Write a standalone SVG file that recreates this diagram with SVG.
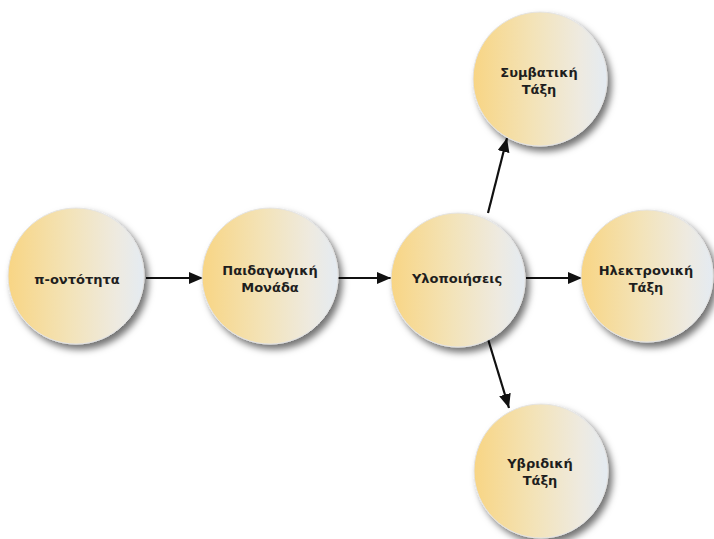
<svg xmlns="http://www.w3.org/2000/svg" width="714" height="539" viewBox="0 0 714 539">
  <defs>
    <linearGradient id="ball" x1="0" y1="0" x2="1" y2="0">
      <stop offset="0" stop-color="#f8d584"/>
      <stop offset="0.45" stop-color="#f3e3b8"/>
      <stop offset="0.8" stop-color="#eeeae0"/>
      <stop offset="1" stop-color="#e4ebf2"/>
    </linearGradient>
    <filter id="shade" x="-20%" y="-20%" width="150%" height="150%">
      <feDropShadow dx="4" dy="5" stdDeviation="3.5" flood-color="#000" flood-opacity="0.55"/>
    </filter>
    <marker id="head" viewBox="0 0 14 12" refX="14" refY="6" markerWidth="14" markerHeight="12" markerUnits="userSpaceOnUse" orient="auto">
      <path d="M0,0 L14,6 L0,12 Z" fill="#111"/>
    </marker>
  </defs>
  <style>
    .node circle { fill: url(#ball); stroke: #e4e4e4; stroke-width: 1; filter: url(#shade); }
    .node text { font-family: "DejaVu Sans", Verdana, sans-serif; font-weight: bold; font-size: 13px; fill: #1e1e1e; text-anchor: middle; }
    .edges line { stroke: #111; stroke-width: 2.2; marker-end: url(#head); }
  </style>

  <rect width="714" height="539" fill="#ffffff"/>

  <g class="edges">
    <line x1="146" y1="278" x2="203" y2="278"/>
    <line x1="338" y1="278" x2="391" y2="278"/>
    <line x1="526" y1="278" x2="582" y2="278"/>
    <line x1="488" y1="213" x2="507" y2="138"/>
    <line x1="488" y1="339" x2="509" y2="408"/>
  </g>

  <g id="node-p-ontotita" class="node">
    <circle cx="76" cy="276" r="68"/>
    <text x="77" y="284">π-οντότητα</text>
  </g>

  <g id="node-paidagogiki-monada" class="node">
    <circle cx="270" cy="276" r="68"/>
    <text x="270" y="275">Παιδαγωγική</text>
    <text x="270" y="292">Μονάδα</text>
  </g>

  <g id="node-ylopoiiseis" class="node">
    <circle cx="458" cy="280" r="67"/>
    <text x="457" y="283">Υλοποιήσεις</text>
  </g>

  <g id="node-symvatiki-taxi" class="node">
    <circle cx="540" cy="79" r="67"/>
    <text x="539" y="77">Συμβατική</text>
    <text x="539" y="94">Τάξη</text>
  </g>

  <g id="node-ilektroniki-taxi" class="node">
    <circle cx="647" cy="276" r="66"/>
    <text x="646" y="275">Ηλεκτρονική</text>
    <text x="646" y="292">Τάξη</text>
  </g>

  <g id="node-yvridiki-taxi" class="node">
    <circle cx="541" cy="471" r="67"/>
    <text x="540" y="468">Υβριδική</text>
    <text x="540" y="485">Τάξη</text>
  </g>
</svg>
